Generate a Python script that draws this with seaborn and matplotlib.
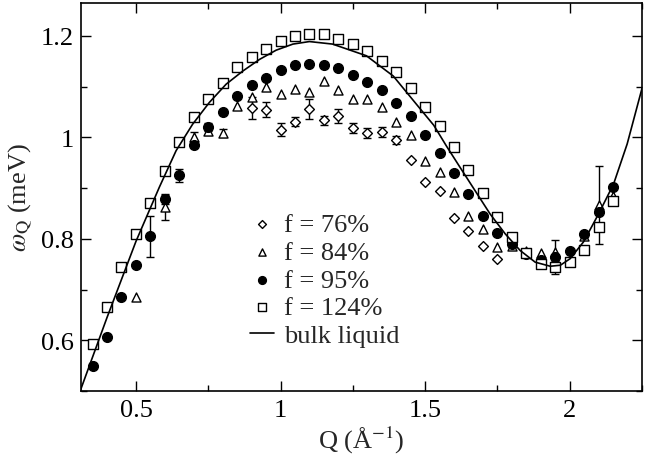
import numpy as np
import pandas as pd
import matplotlib
matplotlib.use("Agg")
import matplotlib.pyplot as plt
from matplotlib import font_manager as fm
import seaborn as sns
from matplotlib.ticker import MultipleLocator

# ---- data ----
q76 = [0.90, 0.95, 1.00, 1.05, 1.10, 1.15, 1.20, 1.25, 1.30, 1.35, 1.40,
       1.45, 1.50, 1.55, 1.60, 1.65, 1.70, 1.75]
w76 = [1.058, 1.055, 1.015, 1.031, 1.056, 1.034, 1.043, 1.019, 1.008, 1.010, 0.995,
       0.955, 0.912, 0.895, 0.841, 0.816, 0.786, 0.761]
e76 = [0.021, 0.015, 0.013, 0.009, 0.020, 0.009, 0.014, 0.010, 0.010, 0.010, 0.008,
       0, 0, 0, 0, 0, 0, 0]

q84 = [0.50, 0.60, 0.70, 0.75, 0.80, 0.85, 0.90, 0.95, 1.00, 1.05, 1.10, 1.15,
       1.20, 1.25, 1.30, 1.35, 1.40, 1.45, 1.50, 1.55, 1.60, 1.65, 1.70, 1.75,
       1.80, 1.85, 1.90, 1.95, 2.05, 2.10, 2.15]
w84 = [0.685, 0.862, 1.001, 1.012, 1.009, 1.061, 1.080, 1.100, 1.086, 1.095, 1.089, 1.111,
       1.094, 1.075, 1.075, 1.059, 1.031, 1.005, 0.954, 0.931, 0.893, 0.845, 0.820, 0.784,
       0.786, 0.776, 0.772, 0.774, 0.805, 0.866, 0.884]
e84 = [0, 0.025, 0.010, 0.008, 0.008, 0, 0, 0, 0, 0, 0, 0,
       0, 0, 0, 0, 0, 0, 0, 0, 0, 0, 0, 0,
       0, 0, 0, 0.023, 0, 0.077, 0]

q95 = [0.35, 0.40, 0.45, 0.50, 0.55, 0.60, 0.65, 0.70, 0.75, 0.80, 0.85, 0.90,
       0.95, 1.00, 1.05, 1.10, 1.15, 1.20, 1.25, 1.30, 1.35, 1.40, 1.45, 1.50,
       1.55, 1.60, 1.65, 1.70, 1.75, 1.80, 1.85, 1.90, 1.95, 2.00, 2.05, 2.10, 2.15]
w95 = [0.550, 0.607, 0.685, 0.748, 0.805, 0.878, 0.925, 0.986, 1.021, 1.051, 1.081, 1.104,
       1.118, 1.133, 1.142, 1.144, 1.142, 1.136, 1.124, 1.109, 1.093, 1.067, 1.042, 1.005,
       0.969, 0.930, 0.889, 0.845, 0.811, 0.790, 0.771, 0.759, 0.764, 0.777, 0.809, 0.853, 0.902]
e95 = [0, 0, 0, 0, 0.041, 0.010, 0.012, 0, 0.008, 0, 0, 0,
       0, 0, 0, 0, 0, 0, 0, 0, 0, 0, 0, 0,
       0, 0, 0, 0, 0, 0, 0, 0, 0, 0, 0, 0, 0]

q124 = [0.35, 0.40, 0.45, 0.50, 0.55, 0.60, 0.65, 0.70, 0.75, 0.80, 0.85, 0.90,
        0.95, 1.00, 1.05, 1.10, 1.15, 1.20, 1.25, 1.30, 1.35, 1.40, 1.45, 1.50,
        1.55, 1.60, 1.65, 1.70, 1.75, 1.80, 1.85, 1.90, 1.95, 2.00, 2.05, 2.10, 2.15]
w124 = [0.593, 0.665, 0.744, 0.810, 0.870, 0.933, 0.991, 1.041, 1.075, 1.107, 1.138, 1.159,
        1.175, 1.190, 1.200, 1.204, 1.203, 1.195, 1.185, 1.170, 1.151, 1.129, 1.098, 1.060,
        1.023, 0.981, 0.936, 0.890, 0.844, 0.804, 0.772, 0.751, 0.744, 0.754, 0.779, 0.824, 0.875]
e124 = [0, 0, 0, 0, 0, 0, 0, 0, 0, 0, 0, 0,
        0, 0, 0, 0, 0, 0, 0, 0, 0, 0, 0, 0,
        0, 0, 0, 0, 0, 0, 0, 0, 0.013, 0, 0, 0, 0]

q_bulk = [0.307, 0.40, 0.50, 0.581, 0.639, 0.696, 0.754, 0.812, 0.870, 0.928, 0.985,
          1.043, 1.10, 1.18, 1.297, 1.390, 1.475, 1.53, 1.575, 1.621, 1.673, 1.725,
          1.777, 1.829, 1.881, 1.933, 1.968, 2.002, 2.048, 2.100, 2.152, 2.199, 2.251]
w_bulk = [0.500, 0.645, 0.795, 0.902, 0.974, 1.026, 1.069, 1.105, 1.131, 1.154, 1.172,
          1.184, 1.189, 1.184, 1.161, 1.121, 1.062, 1.024, 0.982, 0.941, 0.895, 0.849,
          0.810, 0.777, 0.754, 0.746, 0.748, 0.761, 0.794, 0.849, 0.908, 0.987, 1.098]

labels = ["f = 76%", "f = 84%", "f = 95%", "f = 124%", "bulk liquid"]

# ---- styling ----
sns.set_theme(style="ticks")

available = set(f.name for f in fm.fontManager.ttflist)
serif = "STIXGeneral"
for cand in ["Liberation Serif", "Tinos", "Times New Roman", "Nimbus Roman",
             "STIX Two Text", "STIXGeneral"]:
    if cand in available:
        serif = cand
        break
plt.rcParams["font.family"] = [serif, "DejaVu Serif"]
plt.rcParams["mathtext.fontset"] = "stix"

fig = plt.figure(figsize=(6.55, 4.6), dpi=100)
ax = fig.add_axes([0.1237, 0.1478, 0.8563, 0.8435])

series = [
    (q76, w76, e76, "D", 5.0, "white", labels[0]),
    (q84, w84, e84, "^", 6.5, "white", labels[1]),
    (q95, w95, e95, "o", 7.0, "black", labels[2]),
    (q124, w124, e124, "s", 6.5, "white", labels[3]),
]

for q, w, e, mk, ms, fc, lab in series:
    df = pd.DataFrame({"Q": q, "w": w, "e": e})
    de = df[df["e"] > 0]
    if len(de):
        ax.errorbar(de["Q"], de["w"], yerr=de["e"], fmt="none", ecolor="black",
                    elinewidth=1.0, capsize=3, capthick=1.0, zorder=2)
    sns.scatterplot(data=df, x="Q", y="w", marker=mk, s=ms ** 2, facecolor=fc,
                    edgecolor="black", linewidth=1.0, ax=ax, zorder=3, label=lab)

dfb = pd.DataFrame({"Q": q_bulk, "w": w_bulk})
sns.lineplot(data=dfb, x="Q", y="w", color="black", linewidth=1.2, ax=ax,
             sort=False, label=labels[4], zorder=4)

ax.set_xlim(0.31, 2.25)
ax.set_ylim(0.5, 1.265)
ax.xaxis.set_minor_locator(MultipleLocator(0.25))
ax.yaxis.set_minor_locator(MultipleLocator(0.1))
ax.set_xticks([0.5, 1.0, 1.5, 2.0])
ax.set_xticklabels(["0.5", "1", "1.5", "2"])
ax.set_yticks([0.6, 0.8, 1.0, 1.2])
ax.set_yticklabels(["0.6", "0.8", "1", "1.2"])
ax.tick_params(which="both", direction="in", top=True, right=True, colors="black",
               labelsize=19, width=1.0)
ax.tick_params(which="major", length=7)
ax.tick_params(which="minor", length=4)
ax.tick_params(axis="x", pad=6)
ax.tick_params(axis="y", pad=5)
for sp in ax.spines.values():
    sp.set_linewidth(1.2)
    sp.set_color("black")

ax.set_xlabel("Q (Å$^{-1}$)", fontsize=19, labelpad=2)
ax.set_ylabel(r"$\omega_{\mathrm{Q}}$ (meV)", fontsize=19, labelpad=5)

h, l = ax.get_legend_handles_labels()
leg = ax.legend(h, l, loc="upper left", bbox_to_anchor=(0.268, 0.507), frameon=False,
                fontsize=19, markerscale=0.8, handlelength=0.9, handletextpad=0.4,
                labelspacing=0.16, borderpad=0.2)

fig.savefig("out.png", dpi=100)
